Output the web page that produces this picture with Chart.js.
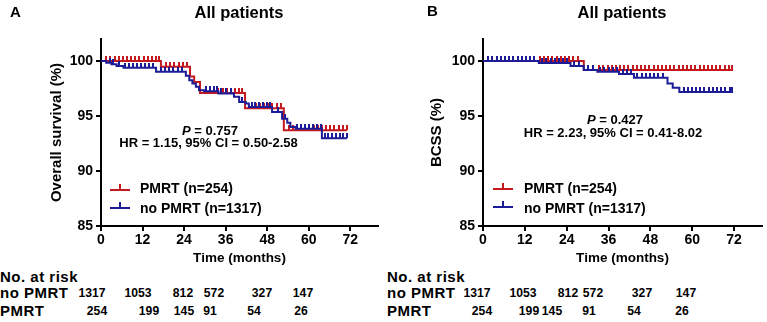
<!DOCTYPE html>
<html><head><meta charset="utf-8">
<script src="https://cdn.jsdelivr.net/npm/chart.js@4.4.0/dist/chart.umd.min.js"></script>
<style>
html,body{margin:0;padding:0;background:#fff;}
#wrap{position:relative;width:767px;height:322px;overflow:hidden;background:#fff;font-family:"Liberation Sans",Arial,sans-serif;color:#000;font-weight:bold;}
canvas{position:absolute;top:0;}
.t{position:absolute;line-height:0;white-space:nowrap;}
.c{transform:translateX(-50%);}
.lg{position:absolute;height:2px;width:20px;}
.tk{position:absolute;width:2px;height:5px;}
.lab{font-size:15px;letter-spacing:0.5px;}
.num{font-size:13.5px;transform:translateX(-50%) scaleX(0.9);}
</style></head><body>
<div id="wrap">
<canvas id="cA" width="383" height="266" style="left:0"></canvas>
<canvas id="cB" width="384" height="266" style="left:383px"></canvas>

<div class="t" style="left:10px;top:11.5px;font-size:15px">A</div>
<div class="t c" style="left:239px;top:11.5px;font-size:16.5px">All patients</div>
<div class="t" style="left:427px;top:11px;font-size:15px">B</div>
<div class="t c" style="left:622px;top:11.5px;font-size:16.5px">All patients</div>

<div class="t c" style="left:210px;top:130.5px;font-size:13px"><i>P</i> = 0.757</div>
<div class="t c" style="left:208.5px;top:143px;font-size:13px">HR = 1.15, 95% CI = 0.50-2.58</div>
<div class="t c" style="left:615px;top:119.5px;font-size:13px"><i>P</i> = 0.427</div>
<div class="t c" style="left:613px;top:132.8px;font-size:13px">HR = 2.23, 95% CI = 0.41-8.02</div>

<div class="lg" style="left:110px;top:189px;background:#C41A1F"></div>
<div class="tk" style="left:119px;top:184px;background:#C41A1F"></div>
<div class="lg" style="left:110px;top:207px;background:#1C1C96"></div>
<div class="tk" style="left:119px;top:202px;background:#1C1C96"></div>
<div class="t" style="left:140px;top:188.3px;font-size:14px">PMRT (n=254)</div>
<div class="t" style="left:140px;top:208px;font-size:14px">no PMRT (n=1317)</div>

<div class="lg" style="left:493px;top:188px;background:#C41A1F"></div>
<div class="tk" style="left:502px;top:183px;background:#C41A1F"></div>
<div class="lg" style="left:493px;top:206px;background:#1C1C96"></div>
<div class="tk" style="left:502px;top:201px;background:#1C1C96"></div>
<div class="t" style="left:524px;top:188.3px;font-size:14px">PMRT (n=254)</div>
<div class="t" style="left:524px;top:207.5px;font-size:14px">no PMRT (n=1317)</div>

<div id="risk"></div>
</div>
<script>
// ---------- data ----------
const xTicks = [0, 12, 24, 36, 48, 60, 72];
const yTicks = [85, 90, 95, 100];

// Panel A: overall survival
const timesA_PMRT = [0, 17.3, 25.7, 26.9, 28.6, 41.6, 52.8, 71.0];
const survA_PMRT  = [100, 99.48, 98.6, 98.1, 97.1, 95.7, 93.7, 93.7];
const censA_PMRT  = [1.5, 2.7, 3.9, 5.1, 6.3, 7.5, 8.7, 9.9, 11.1, 12.3, 13.5, 14.7, 15.9, 16.8,
                     18.8, 20.0, 21.2, 22.4, 23.6, 24.9,
                     30.3, 31.5, 32.7, 33.9, 35.1, 36.3, 37.5, 38.7, 39.9, 40.8,
                     44.7, 45.9, 47.1, 48.3, 49.5, 50.7, 51.9,
                     54.2, 55.4, 56.6, 57.8, 59.0, 60.2, 61.4, 62.6, 63.8, 65.0, 66.2, 67.4, 68.6, 69.8, 71.0];
const timesA_noPMRT = [0, 1.5, 3.0, 4.5, 6.5, 15.9, 24.5, 25.5, 26.4, 27.4, 28.3, 29.8, 33.9, 38.4, 39.9, 41.8, 42.7, 49.4, 52.3, 53.8, 54.7, 56.2, 63.8, 71.0];
const survA_noPMRT  = [100, 99.85, 99.7, 99.55, 99.39, 99.02, 98.65, 98.26, 97.96, 97.65, 97.35, 97.26, 97.05, 96.74, 96.28, 96.13, 95.82, 95.36, 94.75, 94.39, 93.99, 93.84, 92.98, 92.98];
const censA_noPMRT  = [2.5, 3.6, 5.2, 6.8, 8.0, 9.2, 10.4, 11.6, 12.8, 14.0, 15.0,
                       17.3, 18.5, 19.7, 20.9, 22.1, 23.5,
                       30.3, 31.4, 32.5, 33.6, 34.8, 36.1, 37.5,
                       40.8, 43.5, 44.6, 45.7, 46.8, 47.9, 48.9, 51.0, 53.2,
                       56.5, 57.7, 58.9, 60.1, 61.3, 62.4, 63.4,
                       64.6, 65.7, 66.8, 67.9, 69.0, 70.0, 71.0];

// Panel B: breast cancer specific survival
const timesB_PMRT = [0, 28.9, 71.7];
const survB_PMRT  = [100, 99.18, 99.18];
const censB_PMRT  = [16.3, 17.5, 18.7, 19.9, 21.1, 22.3, 23.5, 24.7, 25.9, 27.1,
                     33.3, 34.5, 35.7, 36.9, 38.1, 39.3, 40.5, 41.7, 42.9, 44.1, 45.3, 46.5, 47.7, 48.9, 50.1,
                     51.3, 52.5, 53.7, 54.9, 56.1, 57.3, 58.5, 59.7, 60.9, 62.1, 63.3, 64.5, 65.7, 66.9, 68.1, 69.3, 70.5, 71.5];
const timesB_noPMRT = [0, 16.0, 25.1, 28.9, 32.8, 39.0, 43.3, 52.9, 54.4, 56.3, 71.7];
const survB_noPMRT  = [100, 99.82, 99.54, 99.18, 99.02, 98.81, 98.47, 97.96, 97.56, 97.19, 97.19];
const censB_noPMRT  = [1.5, 2.7, 3.9, 5.1, 6.3, 7.5, 8.7, 9.9, 11.1, 12.3, 13.5, 14.7,
                       17.0, 18.2, 19.4, 20.6, 21.8, 23.0, 24.2,
                       26.0, 27.4, 30.0, 31.4,
                       33.6, 34.8, 36.0, 37.2, 38.3, 40.0, 41.2, 42.4,
                       44.3, 45.5, 46.7, 47.9, 49.1, 50.3, 51.5,
                       57.5, 58.7, 59.9, 61.1, 62.3, 63.5, 64.7, 65.9, 67.1, 68.3, 69.5, 70.7, 71.5];

// Number at risk
const riskLabels = ['no PMRT', 'PMRT'];
const riskNoPMRT = [1317, 1053, 812, 572, 327, 147];
const riskPMRT   = [254, 199, 145, 91, 54, 26];

// ---------- layout (positions only) ----------
const riskLayout = [
  {left: 0,   noX: [92, 138, 183, 214, 262, 303], pX: [97, 149, 184, 210, 254, 301]},
  {left: 387, noX: [477, 523, 568, 593, 642, 686], pX: [482, 529, 552, 589, 634, 682]}
];
const rowY = [276.7, 293.3, 311];

const RED = '#C41A1F', BLUE = '#1C1C96';
const FONT = '"Liberation Sans", Arial, sans-serif';

function stepData(ts, vs) { return ts.map((t, i) => ({x: t, y: vs[i]})); }
function censorData(cs, ts, vs) {
  return cs.map(c => { let s = vs[0]; for (let i = 0; i < ts.length; i++) if (ts[i] <= c) s = vs[i]; return {x: c, y: s}; });
}
function tickImg(color) {
  const c = document.createElement('canvas'); c.width = 2; c.height = 10;
  const g = c.getContext('2d'); g.fillStyle = color; g.fillRect(0, 0, 2, 5); return c;
}
const redTick = tickImg(RED), blueTick = tickImg(BLUE);

function datasets(tR, sR, cR, tB, sB, cB) {
  return [
    {data: censorData(cB, tB, sB), showLine: false, pointStyle: blueTick, pointRadius: 3, borderColor: BLUE, backgroundColor: BLUE},
    {data: stepData(tB, sB), stepped: 'before', borderColor: BLUE, borderWidth: 2, pointRadius: 0, fill: false},
    {data: censorData(cR, tR, sR), showLine: false, pointStyle: redTick, pointRadius: 3, borderColor: RED, backgroundColor: RED},
    {data: stepData(tR, sR), stepped: 'before', borderColor: RED, borderWidth: 2, pointRadius: 0, fill: false}
  ];
}

function makeChart(id, yTitle, ds, yWidth, padRight, yTitlePad) {
  return new Chart(document.getElementById(id), {
    type: 'line',
    data: {datasets: ds},
    options: {
      responsive: false, animation: false, events: [],
      layout: {padding: {top: 39, right: padRight, bottom: 0, left: 0}},
      plugins: {legend: {display: false}, tooltip: {enabled: false}},
      scales: {
        x: {
          type: 'linear', min: 0, max: 80,
          ticks: {stepSize: 12, includeBounds: false, color: '#000', padding: 1,
                  font: {family: FONT, size: 14, weight: 'bold'}},
          afterBuildTicks: s => { s.ticks = xTicks.map(v => ({value: v})); },
          afterFit: s => { s.height = 40; },
          grid: {drawOnChartArea: false, drawTicks: true, tickLength: 5, color: '#000', lineWidth: 2},
          border: {display: true, color: '#000', width: 2},
          title: {display: true, text: 'Time (months)', color: '#000', padding: {top: 0, bottom: 0},
                  font: {family: FONT, size: 13.5, weight: 'bold'}}
        },
        y: {
          type: 'linear', min: 85, max: 102,
          ticks: {stepSize: 5, includeBounds: false, color: '#000', padding: 3,
                  font: {family: FONT, size: 14, weight: 'bold'}},
          afterBuildTicks: s => { s.ticks = yTicks.map(v => ({value: v})); },
          afterFit: s => { s.width = yWidth; },
          grid: {drawOnChartArea: false, drawTicks: true, tickLength: 5, color: '#000', lineWidth: 2},
          border: {display: true, color: '#000', width: 2},
          title: {display: true, text: yTitle, color: '#000', padding: {top: yTitlePad, bottom: 0},
                  font: {family: FONT, size: 15, weight: 'bold'}}
        }
      }
    }
  });
}

makeChart('cA', 'Overall survival (%)',
  datasets(timesA_PMRT, survA_PMRT, censA_PMRT, timesA_noPMRT, survA_noPMRT, censA_noPMRT), 101, 3, 48);
makeChart('cB', 'BCSS (%)',
  datasets(timesB_PMRT, survB_PMRT, censB_PMRT, timesB_noPMRT, survB_noPMRT, censB_noPMRT), 100, 4, 45);

// risk table
const risk = document.getElementById('risk');
function addText(x, y, text, cls, center) {
  const d = document.createElement('div');
  d.className = 't ' + cls + (center ? ' c' : '');
  d.style.left = x + 'px'; d.style.top = y + 'px'; d.textContent = text;
  risk.appendChild(d);
}
riskLayout.forEach(L => {
  addText(L.left, rowY[0], 'No. at risk', 'lab', false);
  addText(L.left, rowY[1], riskLabels[0], 'lab', false);
  addText(L.left, rowY[2], riskLabels[1], 'lab', false);
  riskNoPMRT.forEach((v, i) => addText(L.noX[i], rowY[1], String(v), 'num', true));
  riskPMRT.forEach((v, i) => addText(L.pX[i], rowY[2], String(v), 'num', true));
});
</script>
</body></html>
